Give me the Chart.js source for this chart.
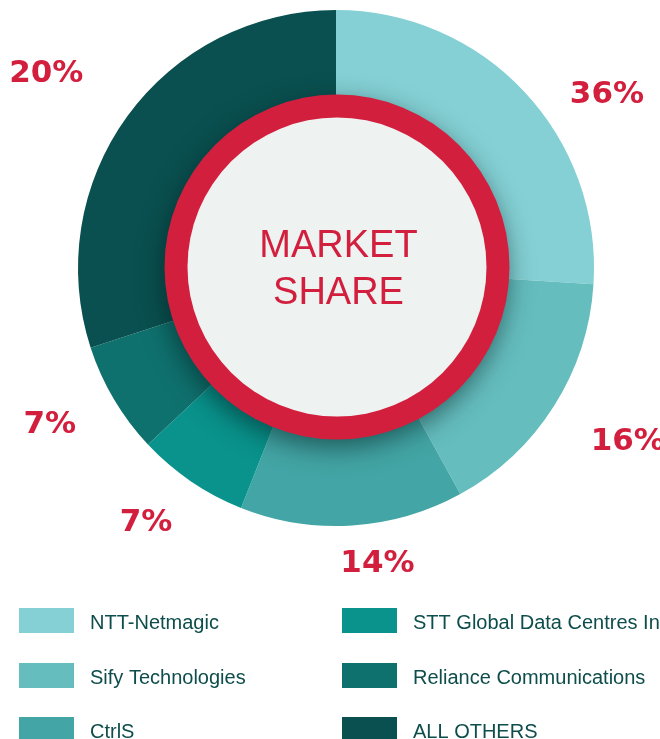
<!DOCTYPE html>
<html>
<head>
<meta charset="utf-8">
<title>Market share</title>
<script src="https://cdn.jsdelivr.net/npm/chart.js@4.4.1/dist/chart.umd.min.js"></script>
<style>
  html, body { margin: 0; padding: 0; background: #ffffff; }
  #wrap { width: 660px; height: 739px; position: relative; }
</style>
</head>
<body>
<div id="wrap"><canvas id="grafico"></canvas></div>
<script>
// companies, in the order they go round the ring (clockwise from the top)
const empresas = ['NTT-Netmagic', 'Sify Technologies', 'CtrlS',
  'STT Global Data Centres Inc', 'Reliance Communications', 'ALL OTHERS'];
// slice sizes as drawn in the picture
const tamanos = [26, 16, 14, 7, 7, 30];
// percentages printed next to the slices
const etiquetas = ['36%', '16%', '14%', '7%', '7%', '20%'];

const colores = ['#84d0d4', '#65bdbe', '#43a5a5', '#09938c', '#0f716e', '#0a5050'];
const rojo = '#d31f3e';

// small nudges for the percentage texts: [degrees, px beyond outer radius]
const ajusteEtiquetas = [[10.5, 64], [-1.8, 81], [-4.4, 40], [2.6, 59], [2.0, 68], [-2.1, 91]];

// legend layout: two columns, three rows
const leyendaX = [19, 342];
const leyendaY = [608, 663, 717];

const centro = {
    id: 'centro',
    afterDatasetsDraw(chart) {
        const ctx = chart.ctx;
        const arco = chart.getDatasetMeta(0).data[0];
        const cx = arco.x, cy = arco.y - 1;

        // red ring with its shadow
        ctx.save();
        ctx.shadowColor = 'rgba(0, 30, 30, 0.55)';
        ctx.shadowBlur = 26;
        ctx.shadowOffsetX = -2;
        ctx.shadowOffsetY = 8;
        ctx.beginPath();
        ctx.arc(cx + 1, cy, 172.5, 0, Math.PI * 2);
        ctx.fillStyle = rojo;
        ctx.fill();
        ctx.restore();

        ctx.save();
        ctx.beginPath();
        ctx.arc(cx + 1, cy, 149.5, 0, Math.PI * 2);
        ctx.fillStyle = '#eef2f1';
        ctx.fill();

        ctx.fillStyle = rojo;
        ctx.font = '38px "Liberation Sans", Arial, sans-serif';
        ctx.textAlign = 'center';
        ctx.textBaseline = 'alphabetic';
        ctx.fillText('MARKET', cx + 2.5, cy - 10.5);
        ctx.fillText('SHARE', cx + 2.5, cy + 37);
        ctx.restore();
    },
    afterDraw(chart) {
        const ctx = chart.ctx;
        const meta = chart.getDatasetMeta(0);

        // percentages round the outside
        ctx.save();
        ctx.fillStyle = rojo;
        ctx.font = 'bold 31px "DejaVu Sans", sans-serif';
        ctx.textAlign = 'center';
        ctx.textBaseline = 'middle';
        meta.data.forEach((arc, i) => {
            const medio = (arc.startAngle + arc.endAngle) / 2 + ajusteEtiquetas[i][0] * Math.PI / 180;
            const r = arc.outerRadius + ajusteEtiquetas[i][1];
            const x = arc.x + r * Math.cos(medio);
            const y = arc.y + r * Math.sin(medio);
            ctx.fillText(etiquetas[i], x, y + 1);
        });
        ctx.restore();

        // legend
        ctx.save();
        ctx.font = '20px "Liberation Sans", Arial, sans-serif';
        ctx.textAlign = 'left';
        ctx.textBaseline = 'alphabetic';
        chart.data.labels.forEach((nombre, i) => {
            const col = Math.floor(i / 3);
            const fila = i % 3;
            const x = leyendaX[col];
            const y = leyendaY[fila];
            ctx.fillStyle = chart.data.datasets[0].backgroundColor[i];
            ctx.fillRect(x, y, 55, 25);
            ctx.fillStyle = '#0d4d4b';
            ctx.fillText(nombre, x + 71, y + 21);
        });
        ctx.restore();
    }
};

new Chart(document.getElementById('grafico'), {
    type: 'doughnut',
    data: {
        labels: empresas,
        datasets: [{
            data: tamanos,
            backgroundColor: colores,
            borderWidth: 0,
            hoverOffset: 0,
            offset: 0
        }]
    },
    options: {
        responsive: true,
        maintainAspectRatio: false,
        animation: false,
        cutout: '60%',
        layout: {
            padding: { left: 78, right: 66, top: 10, bottom: 213 }
        },
        plugins: {
            legend: { display: false },
            tooltip: { enabled: false }
        }
    },
    plugins: [centro]
});
</script>
</body>
</html>
